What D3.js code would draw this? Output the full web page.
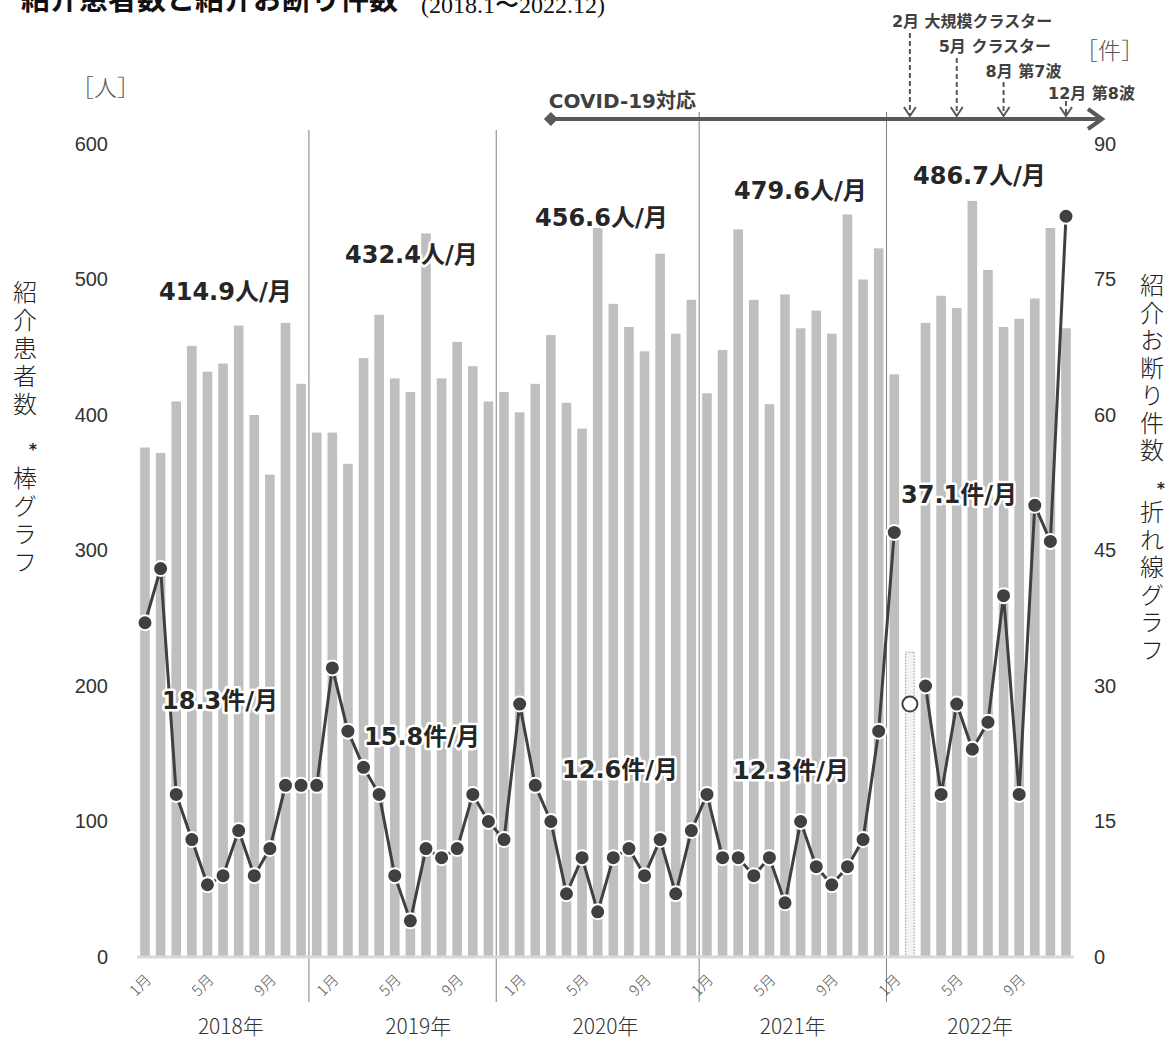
<!DOCTYPE html>
<html><head><meta charset="utf-8">
<script src="https://cdn.jsdelivr.net/npm/d3@7"></script>
<style>body{margin:0;background:#fff;} svg{display:block;}</style>
</head><body><div id="chart"></div>
<script>
// ---------- data ----------
const yearNames = ["2018年","2019年","2020年","2021年","2022年"];
const monthTickIdx = [0,4,8];
const monthTickText = ["1月","5月","9月"];
// 紹介患者数 (人) 2018.1 - 2022.12 ; 2022年2月 is missing
const patients = [
  376,372,410,451,432,438,466,400,356,468,423,387,
  387,364,442,474,427,417,534,427,454,436,410,417,
  402,423,459,409,390,538,482,465,447,519,460,485,
  416,448,537,485,408,489,464,477,460,548,500,523,
  430,null,468,488,479,558,507,465,471,486,538,464
];
// 紹介お断り件数 (件)
const refusals = [
  37,43,18,13,8,9,14,9,12,19,19,19,
  32,25,21,18,9,4,12,11,12,18,15,13,
  28,19,15,7,11,5,11,12,9,13,7,14,
  18,11,11,9,11,6,15,10,8,10,13,25,
  47,28,30,18,28,23,26,40,18,50,46,82
];
const missingIdx = [49];              // 2022年2月 (open marker / dotted bar)
const missingPlaceholder = [225];     // dotted outline bar value
const yearDividerAfter = [10,22,35,47];
const patientAvgText = ["414.9人/月","432.4人/月","456.6人/月","479.6人/月","486.7人/月"];
const refusalAvgText = ["18.3件/月","15.8件/月","12.6件/月","12.3件/月","37.1件/月"];
const leftTicks = [0,100,200,300,400,500,600];
const rightTicks = [0,15,30,45,60,75,90];
const covidStartIdx = 26;
const eventIdx = [49,52,55,59];
const eventText = ["2月 大規模クラスター","5月 クラスター","8月 第7波","12月 第8波"];

// ---------- layout (annotation placement) ----------
const W = 1170, H = 1044;
const patientAvgPos = [[159,300],[345,263],[535,226],[734,199],[913,184]];
const refusalAvgPos = [[162,709],[364,745],[562,778],[733,779],[901,503]];
const eventTextY = [27,52,77,99];
const eventArrowTop = [33,58,82,101];
const dividerTop = [130,130,112,112];

const svg = d3.select("#chart").append("svg").attr("width",W).attr("height",H)
  .style("font-family","'Noto Sans CJK JP', sans-serif");

const xc = d3.scalePoint().domain(d3.range(patients.length)).range([145,1066]);
const yL = d3.scaleLinear().domain([0,600]).range([957,144]);
const yR = d3.scaleLinear().domain([0,90]).range([957,144]);
const barW = 9.6;

// title (partially cut at top, as in the source image)
svg.append("text").attr("x",21).attr("y",10).attr("font-size",29).attr("font-weight",700)
  .attr("fill","#111").text("紹介患者数と紹介お断り件数");
svg.append("text").attr("x",421).attr("y",13).attr("font-size",24)
  .attr("font-family","'Liberation Serif', serif").attr("fill","#111").text("(2018.1〜2022.12)");

// bars
svg.append("g").selectAll("rect")
  .data(patients.map((v,i)=>({v,i})).filter(d=>d.v!=null))
  .join("rect")
  .attr("x",d=>xc(d.i)-barW/2).attr("width",barW)
  .attr("y",d=>yL(d.v)).attr("height",d=>yL(0)-yL(d.v))
  .attr("fill","#bfbfbf");

// missing-month dotted bar
svg.append("g").selectAll("rect")
  .data(missingIdx.map((i,k)=>({i,v:missingPlaceholder[k]})))
  .join("rect")
  .attr("x",d=>xc(d.i)-barW/2+0.5).attr("width",barW-1)
  .attr("y",d=>yL(d.v)).attr("height",d=>yL(0)-yL(d.v))
  .attr("fill","#f3f3f3").attr("stroke","#999").attr("stroke-width",1)
  .attr("stroke-dasharray","1.5,1.5");

// year dividers
svg.append("g").selectAll("line")
  .data(yearDividerAfter)
  .join("line")
  .attr("x1",i=>(xc(i)+xc(i+1))/2).attr("x2",i=>(xc(i)+xc(i+1))/2)
  .attr("y1",(d,k)=>dividerTop[k]).attr("y2",1002)
  .attr("stroke","#808080").attr("stroke-width",1);

// x baseline
svg.append("line").attr("x1",xc(0)-8).attr("x2",xc(patients.length-1)+8)
  .attr("y1",yL(0)).attr("y2",yL(0)).attr("stroke","#d9d9d9").attr("stroke-width",3);

// left axis
const gL = svg.append("g").attr("transform","translate(137,0)")
  .call(d3.axisLeft(yL).tickValues(leftTicks).tickSize(0).tickPadding(29));
gL.select(".domain").remove();
gL.attr("font-size",20).attr("font-family","'Liberation Sans', Arial, sans-serif").attr("color","#333");

// right axis
const gR = svg.append("g").attr("transform","translate(1074,0)")
  .call(d3.axisRight(yR).tickValues(rightTicks).tickSize(0).tickPadding(20));
gR.select(".domain").remove();
gR.attr("font-size",20).attr("font-family","'Liberation Sans', Arial, sans-serif").attr("color","#333");

// month ticks
const tickIdx = [];
yearNames.forEach((y,k)=>monthTickIdx.forEach(m=>tickIdx.push(12*k+m)));
const gX = svg.append("g").attr("transform",`translate(0,${yL(0)})`)
  .call(d3.axisBottom(xc).tickValues(tickIdx).tickSize(0)
    .tickFormat(i=>monthTickText[monthTickIdx.indexOf(i%12)]));
gX.select(".domain").remove();
gX.attr("font-size",15).attr("font-family","'Noto Sans CJK JP', sans-serif").attr("color","#555");
gX.selectAll("text").attr("y",0).attr("dy","0.35em").attr("font-weight",300)
  .attr("transform","translate(3,20) rotate(-45)").style("text-anchor","end");

// year labels
svg.append("g").selectAll("text").data(yearNames).join("text")
  .attr("x",(d,k)=>(xc(12*k)+xc(12*k+11))/2).attr("y",1034)
  .attr("text-anchor","middle").attr("font-size",21).attr("font-weight",300)
  .attr("fill","#333").text(d=>d);

// unit labels
svg.append("text").attr("x",71).attr("y",96).attr("font-size",23).attr("font-weight",300)
  .attr("fill","#555").text("［人］");
svg.append("text").attr("x",1075).attr("y",59).attr("font-size",23).attr("font-weight",300)
  .attr("fill","#555").text("［件］");

// vertical axis titles (vertical writing)
function vText(str, x, yTop, size, pitch){
  svg.append("text").attr("x",x).attr("y",yTop)
    .style("writing-mode","vertical-rl")
    .attr("font-size",size).attr("font-weight",300).attr("fill","#222")
    .style("letter-spacing",(pitch-size)+"px")
    .text(str);
}
function star(x,y){
  svg.append("text").attr("x",x).attr("y",y).attr("text-anchor","middle")
    .attr("font-size",15).attr("font-weight",700).attr("fill","#222")
    .attr("font-family","'DejaVu Sans',sans-serif").text("*");
}
vText("紹介患者数", 25, 280, 24, 28);
star(33, 455);
vText("棒グラフ", 25, 466, 24, 28);
vText("紹介お断り件数", 1152, 273, 24, 27.5);
star(1161, 494);
vText("折れ線グラフ", 1152, 500, 24, 27.5);

// COVID arrow
const covY = 119;
const covX0 = xc(covidStartIdx), covX1 = xc(patients.length-1)+36;
svg.append("line").attr("x1",covX0).attr("x2",covX1-2).attr("y1",covY).attr("y2",covY)
  .attr("stroke","#595959").attr("stroke-width",4);
svg.append("path").attr("d",`M${covX1-14},${covY-10}L${covX1},${covY}L${covX1-14},${covY+10}`)
  .attr("fill","none").attr("stroke","#595959").attr("stroke-width",4);
svg.append("path").attr("d",`M${covX0},${covY-7}L${covX0+7},${covY}L${covX0},${covY+7}L${covX0-7},${covY}Z`)
  .attr("fill","#595959");
svg.append("text").attr("x",covX0-2).attr("y",108).attr("font-size",20).attr("font-weight",700)
  .attr("font-family","'DejaVu Sans','Noto Sans CJK JP',sans-serif").attr("fill","#404040")
  .text("COVID-19対応");

// event annotations
eventIdx.forEach((idx,k)=>{
  const ex = xc(idx);
  svg.append("line").attr("x1",ex).attr("x2",ex).attr("y1",eventArrowTop[k]).attr("y2",covY-3)
    .attr("stroke","#595959").attr("stroke-width",2).attr("stroke-dasharray","5,3");
  svg.append("path").attr("d",`M${ex-6},${covY-12}L${ex},${covY-3}L${ex+6},${covY-12}`)
    .attr("fill","none").attr("stroke","#595959").attr("stroke-width",2);
  svg.append("text").attr("x",ex-18).attr("y",eventTextY[k]).attr("font-size",16).attr("font-weight",700)
    .attr("font-family","'DejaVu Sans','Noto Sans CJK JP',sans-serif").attr("fill","#404040")
    .text(eventText[k]);
});

// line
const line = d3.line().defined((d,i)=>!missingIdx.includes(i)).x((d,i)=>xc(i)).y(d=>yR(d));
svg.append("path").datum(refusals).attr("d",line).attr("fill","none")
  .attr("stroke","#404040").attr("stroke-width",3).attr("stroke-linejoin","round");
svg.append("g").selectAll("circle")
  .data(refusals.map((v,i)=>({v,i})))
  .join("circle")
  .attr("cx",d=>xc(d.i)).attr("cy",d=>yR(d.v)).attr("r",7.5)
  .attr("fill",d=>missingIdx.includes(d.i)?"#fff":"#404040")
  .attr("stroke",d=>missingIdx.includes(d.i)?"#404040":"#fff")
  .attr("stroke-width",2);

// average labels
const haloStyle = s => s.attr("font-family","'DejaVu Sans','Noto Sans CJK JP',sans-serif")
  .attr("font-weight",700).attr("font-size",24).attr("fill","#262626")
  .attr("stroke","#fff").attr("stroke-width",5).attr("stroke-linejoin","round")
  .style("paint-order","stroke");
svg.append("g").selectAll("text").data(patientAvgText).join("text")
  .attr("x",(d,k)=>patientAvgPos[k][0]).attr("y",(d,k)=>patientAvgPos[k][1])
  .call(haloStyle).text(d=>d);
svg.append("g").selectAll("text").data(refusalAvgText).join("text")
  .attr("x",(d,k)=>refusalAvgPos[k][0]).attr("y",(d,k)=>refusalAvgPos[k][1])
  .call(haloStyle).text(d=>d);
</script></body></html>
